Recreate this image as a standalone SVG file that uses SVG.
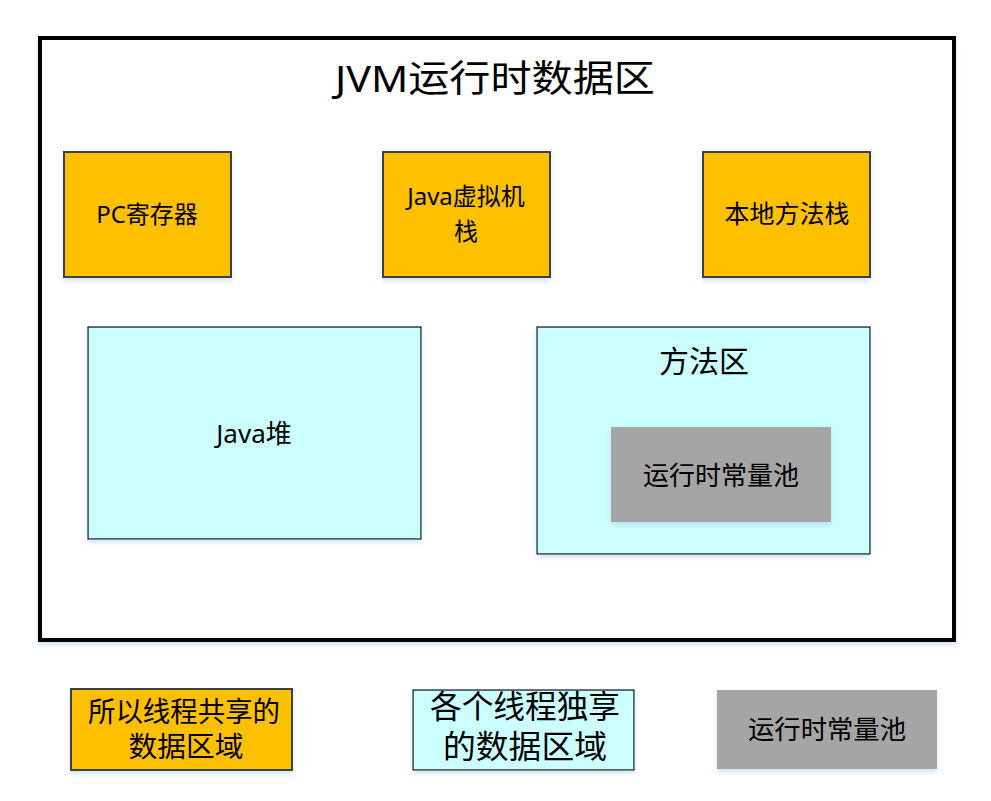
<svg xmlns="http://www.w3.org/2000/svg" width="991" height="801" viewBox="0 0 991 801">
<defs>
<filter id="sh" x="-10%" y="-10%" width="120%" height="130%">
<feDropShadow dx="0" dy="3" stdDeviation="2.5" flood-color="#9dc3e6" flood-opacity="0.45"/>
</filter>
<style>
text{font-family:"Noto Sans","Noto Sans CJK SC",sans-serif;fill:#000;text-anchor:middle}
.y{fill:#FFC000;stroke:#404040;stroke-width:2}
.c{fill:#CCFFFF;stroke:#000;stroke-width:1.2}
.g{fill:#A5A5A5}
</style>
</defs>
<rect width="991" height="801" fill="#fff"/>
<g id="frame">
<rect x="40" y="38" width="914" height="602" fill="#fff" stroke="#000" stroke-width="4" filter="url(#sh)"/>
<text x="495" y="92" font-size="37" textLength="320" lengthAdjust="spacingAndGlyphs">JVM运行时数据区</text>
</g>
<g id="pc">
<rect class="y" x="64" y="152" width="167" height="125" filter="url(#sh)"/>
<text x="147" y="223" font-size="24">PC寄存器</text>
</g>
<g id="jvmstack">
<rect class="y" x="383" y="152" width="167" height="125" filter="url(#sh)"/>
<text x="466" y="205" font-size="24">Java虚拟机</text>
<text x="466" y="240" font-size="24">栈</text>
</g>
<g id="nativestack">
<rect class="y" x="703" y="152" width="167" height="125" filter="url(#sh)"/>
<text x="787" y="223" font-size="25">本地方法栈</text>
</g>
<g id="heap">
<rect class="c" x="88" y="327" width="333" height="212" filter="url(#sh)"/>
<text x="254" y="443" font-size="26">Java堆</text>
</g>
<g id="methodarea">
<rect class="c" x="537" y="327" width="333" height="227" filter="url(#sh)"/>
<text x="704" y="372" font-size="30">方法区</text>
</g>
<g id="constpool">
<rect class="g" x="611" y="427" width="220" height="95" filter="url(#sh)"/>
<text x="721" y="485" font-size="26">运行时常量池</text>
</g>
<g id="legend-shared">
<rect class="y" x="71" y="689" width="221" height="81" filter="url(#sh)"/>
<text x="184" y="722" font-size="28" textLength="192" lengthAdjust="spacingAndGlyphs">所以线程共享的</text>
<text x="186" y="757" font-size="28" textLength="115" lengthAdjust="spacingAndGlyphs">数据区域</text>
</g>
<g id="legend-private">
<rect class="c" x="413" y="690" width="221" height="80" filter="url(#sh)"/>
<text x="525" y="718" font-size="32" textLength="190" lengthAdjust="spacingAndGlyphs">各个线程独享</text>
<text x="525" y="758" font-size="32" textLength="164" lengthAdjust="spacingAndGlyphs">的数据区域</text>
</g>
<g id="legend-pool">
<rect class="g" x="717" y="690" width="220" height="79" filter="url(#sh)"/>
<text x="827" y="739" font-size="26" textLength="158" lengthAdjust="spacingAndGlyphs">运行时常量池</text>
</g>
<g id="connectors"></g>
</svg>
